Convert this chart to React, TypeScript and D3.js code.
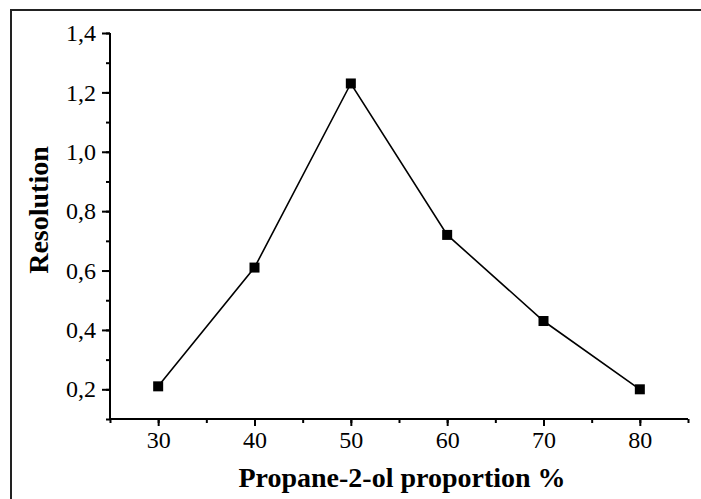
import * as d3 from 'd3';
import React, { useEffect, useRef } from 'react';

// propane-2-ol proportion (%) vs resolution
const proportions = [30, 40, 50, 60, 70, 80];
const resolutions = [0.21, 0.61, 1.23, 0.72, 0.43, 0.2];
const xTicks = [30, 40, 50, 60, 70, 80];
const yTicks = [0.2, 0.4, 0.6, 0.8, 1.0, 1.2, 1.4];

const width = 701;
const height = 499;
const font = '"Liberation Serif", "Times New Roman", serif';

const ResolutionChart = () => {
  const svgRef = useRef(null);

  useEffect(() => {
    const svg = d3.select(svgRef.current);
    svg.selectAll('*').remove();

    const left = 110;
    const right = 688;
    const top = 33;
    const bottom = 419;

    const xScale = d3.scaleLinear().domain([25, 85]).range([left, right]);
    const yScale = d3.scaleLinear().domain([0.1, 1.4]).range([bottom, top]);

    // outer frame (cut off at right and bottom)
    svg
      .append('path')
      .attr('d', `M11,${height} L11,10 L${width},10`)
      .style('fill', 'none')
      .style('stroke', '#222')
      .style('stroke-width', 2);

    const fmt = (d: number) => d3.format('.1f')(d).replace('.', ',');

    // x axis
    const xAxis = svg.append('g').attr('transform', `translate(0,${bottom})`);
    xAxis.call(d3.axisBottom(xScale).tickValues(d3.range(25, 86, 5)).tickSize(4).tickFormat(() => ''));
    xAxis
      .append('g')
      .call(d3.axisBottom(xScale).tickValues(xTicks).tickSize(7).tickPadding(5).tickFormat((d) => String(d)));
    xAxis.selectAll('.domain').remove();
    xAxis
      .append('line')
      .attr('x1', left)
      .attr('x2', right)
      .attr('stroke', '#000')
      .attr('stroke-width', 2);

    // y axis
    const yAxis = svg.append('g').attr('transform', `translate(${left},0)`);
    yAxis.call(
      d3
        .axisLeft(yScale)
        .tickValues(d3.range(0.1, 1.45, 0.1).map((v) => +v.toFixed(1)))
        .tickSize(4)
        .tickFormat(() => '')
    );
    yAxis
      .append('g')
      .call(d3.axisLeft(yScale).tickValues(yTicks).tickSize(8).tickPadding(6).tickFormat((d) => fmt(d as number)));
    yAxis.selectAll('.domain').remove();
    yAxis
      .append('line')
      .attr('y1', top)
      .attr('y2', bottom)
      .attr('stroke', '#000')
      .attr('stroke-width', 2);

    svg.selectAll('.tick line').attr('stroke', '#000').attr('stroke-width', 2);
    svg
      .selectAll('.tick text')
      .style('font-family', font)
      .style('font-size', '24px')
      .attr('fill', '#000');

    const points = proportions.map((p, i) => [p, resolutions[i]] as [number, number]);

    const line = d3
      .line<[number, number]>()
      .x((d) => xScale(d[0]))
      .y((d) => yScale(d[1]));

    svg
      .append('path')
      .datum(points)
      .attr('d', line)
      .style('fill', 'none')
      .style('stroke', '#000')
      .style('stroke-width', 1.6);

    svg
      .append('g')
      .selectAll('rect')
      .data(points)
      .enter()
      .append('rect')
      .attr('x', (d) => xScale(d[0]) - 5)
      .attr('y', (d) => yScale(d[1]) - 5)
      .attr('width', 10)
      .attr('height', 10)
      .style('fill', '#000');

    // axis titles
    svg
      .append('text')
      .attr('x', 402)
      .attr('y', 487)
      .attr('text-anchor', 'middle')
      .style('font-family', font)
      .style('font-weight', 'bold')
      .style('font-size', '28px')
      .text('Propane-2-ol proportion %');

    svg
      .append('text')
      .attr('transform', 'translate(48,210) rotate(-90)')
      .attr('text-anchor', 'middle')
      .style('font-family', font)
      .style('font-weight', 'bold')
      .style('font-size', '28px')
      .text('Resolution');
  }, []);

  return <svg ref={svgRef} width={width} height={height} style={{ display: 'block' }} />;
};

export default function App() {
  return (
    <div style={{ position: 'absolute', left: 0, top: 0, width, height, background: '#fff', overflow: 'hidden' }}>
      <ResolutionChart />
    </div>
  );
}
